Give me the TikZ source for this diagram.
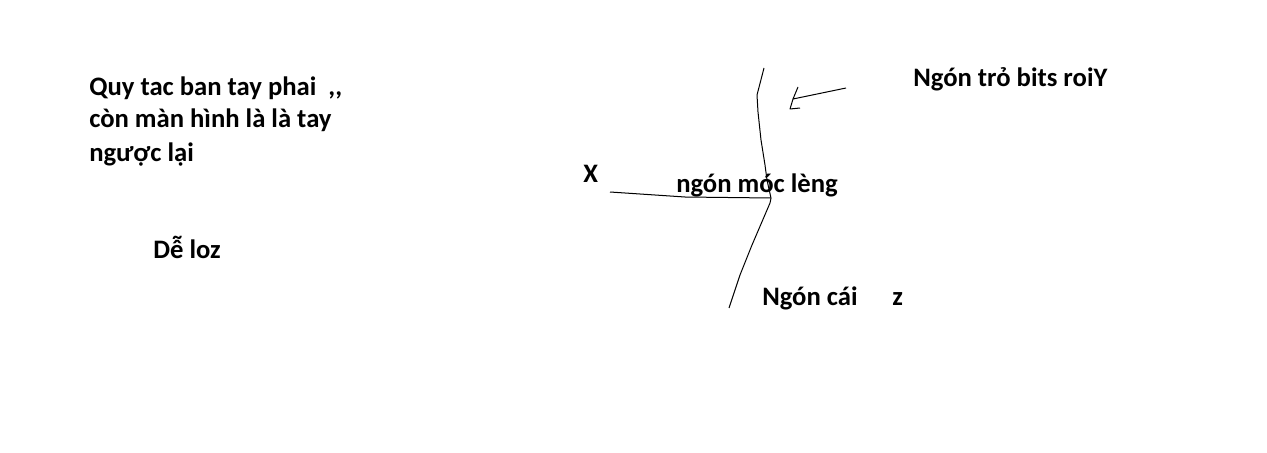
\documentclass[tikz,border=0pt]{standalone}
\usepackage{fontspec}
\setmainfont{Carlito}
\begin{document}
\begin{tikzpicture}[x=0.75pt,y=-0.75pt,
  lbl/.style={inner sep=0pt,anchor=base west,font=\fontsize{20pt}{24.75pt}\selectfont\bfseries},
  stroke/.style={line width=0.75pt,black,line join=round}]
\useasboundingbox (0,0) rectangle (1267,453);
\node[lbl,align=left] (rule) at (89,161) {Quy tac ban tay phai\ \ {,}{,}\\còn màn hình là là tay\\ngược lại};
\node[lbl] (easy) at (153,258) {Dễ loz};
\node[lbl] (xl) at (583,182) {X};
\node[lbl] (mid) at (676,192) {ngón móc lèng};
\node[lbl] (yl) at (913,87) {Ngón trỏ bits roiY};
\node[lbl] (thumb) at (762,305) {Ngón cái};
\node[lbl] (zl) at (892,305) {z};
\coordinate (o) at (771,198);
\coordinate (ytop) at (764,68);
\coordinate (xend) at (610,192);
\coordinate (zend) at (729,308);
\coordinate (atail) at (846,88);
\coordinate (ahead) at (793,99);
\draw[stroke] (ytop) -- (757,95) -- (758,112) -- (761,140) -- (765,165) -- (767,180) -- (o);
\draw[stroke] (o) -- (770,203) -- (752,245) -- (740,275) -- (zend);
\draw[stroke] (xend) -- (685,197) -- (o);
\draw[stroke] (atail) -- (ahead);
\draw[stroke] (798,87) -- (ahead) -- (790,109) -- (800,108);
\end{tikzpicture}
\end{document}
